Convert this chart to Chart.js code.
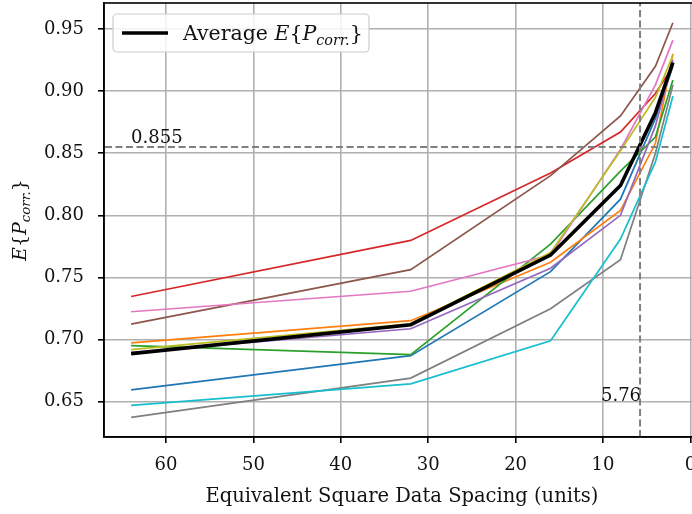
<!DOCTYPE html>
<html>
<head>
<meta charset="utf-8">
<script src="https://cdn.jsdelivr.net/npm/chart.js@4/dist/chart.umd.min.js"></script>
<style>
  html, body { margin: 0; padding: 0; background: #fff; overflow: hidden; }
  #wrap { width: 712px; height: 514px; }
</style>
</head>
<body>
<div id="wrap"><canvas id="spacingChart" width="712" height="514"></canvas></div>
<script>
// data
var spacing = [64, 32, 16, 8, 4, 2];
var xTicks = [0, 10, 20, 30, 40, 50, 60];
var yTicks = [0.65, 0.70, 0.75, 0.80, 0.85, 0.90, 0.95];

var blueRun   = [0.6596, 0.6871, 0.7547, 0.813, 0.878, 0.920];
var orangeRun = [0.6973, 0.7152, 0.7622, 0.804, 0.858, 0.930];
var greenRun  = [0.6951, 0.6879, 0.7768, 0.8356, 0.863, 0.909];
var redRun    = [0.7347, 0.7798, 0.834, 0.867, 0.898, 0.920];
var purpleRun = [0.6895, 0.7087, 0.7574, 0.800, 0.872, 0.925];
var brownRun  = [0.7125, 0.7563, 0.832, 0.880, 0.920, 0.955];
var pinkRun   = [0.7224, 0.7389, 0.768, 0.853, 0.905, 0.941];
var grayRun   = [0.6374, 0.669, 0.7248, 0.7643, 0.850, 0.905];
var oliveRun  = [0.692, 0.7127, 0.770, 0.852, 0.895, 0.929];
var cyanRun   = [0.647, 0.6644, 0.6991, 0.7809, 0.843, 0.896];
var average   = [0.6887, 0.712, 0.768, 0.824, 0.8826, 0.923];

var thresholdP = 0.855;   // horizontal dashed line
var thresholdX = 5.76;    // vertical dashed line
var xRange = [-1.1, 67.1];
var yRange = [0.6216, 0.9709];

var serif = '"DejaVu Serif", "Liberation Serif", serif';
var FS = 18;
var ink = '#111';

function pts(ys) {
  return spacing.map(function (x, i) { return { x: x, y: ys[i] }; });
}

var runs = [
  [blueRun, '#1f77b4'], [orangeRun, '#ff7f0e'], [greenRun, '#2ca02c'],
  [redRun, '#d62728'], [purpleRun, '#9467bd'], [brownRun, '#8c564b'],
  [pinkRun, '#e377c2'], [grayRun, '#7f7f7f'], [oliveRun, '#bcbd22'],
  [cyanRun, '#17becf']
];

var datasets = runs.map(function (r, i) {
  return {
    label: 'run ' + (i + 1),
    data: pts(r[0]),
    borderColor: r[1],
    borderWidth: 1.7,
    pointRadius: 0,
    fill: false,
    tension: 0,
    order: 20 - i
  };
});

datasets.push({
  label: 'Average',
  data: pts(average),
  borderColor: '#000',
  borderWidth: 3.6,
  pointRadius: 0,
  fill: false,
  tension: 0,
  order: 1
});

// threshold lines
datasets.push({
  label: 'hline',
  data: [{ x: xRange[0], y: thresholdP }, { x: xRange[1], y: thresholdP }],
  borderColor: '#808080', borderWidth: 2, borderDash: [7, 3.5],
  pointRadius: 0, order: 0
});
datasets.push({
  label: 'vline',
  data: [{ x: thresholdX, y: yRange[0] }, { x: thresholdX, y: yRange[1] }],
  borderColor: '#808080', borderWidth: 2, borderDash: [7, 3.5],
  pointRadius: 0, order: 0
});

// draw a little bit of "math" text: pieces of {t, it, sub}
function mathWidth(ctx, parts, size) {
  var w = 0;
  parts.forEach(function (p) {
    var s = p.sub ? size * 0.7 : size;
    ctx.font = (p.it ? 'italic ' : '') + s + 'px ' + serif;
    w += ctx.measureText(p.t).width;
  });
  return w;
}
function drawMath(ctx, parts, x, y, size) {
  parts.forEach(function (p) {
    var s = p.sub ? size * 0.7 : size;
    ctx.font = (p.it ? 'italic ' : '') + s + 'px ' + serif;
    ctx.fillText(p.t, x, p.sub ? y + size * 0.22 : y);
    x += ctx.measureText(p.t).width;
  });
}
var eP = [
  { t: 'E', it: true }, { t: '{' }, { t: 'P', it: true },
  { t: 'corr.', it: true, sub: true }, { t: '}' }
];

var extras = {
  id: 'extras',
  afterDraw: function (chart) {
    var ctx = chart.ctx, a = chart.chartArea;
    var xs = chart.scales.x, ys = chart.scales.y;
    ctx.save();
    // frame
    ctx.strokeStyle = '#000';
    ctx.lineWidth = 1.6;
    ctx.strokeRect(a.left, a.top, a.right - a.left, a.bottom - a.top);

    ctx.fillStyle = ink;
    ctx.textBaseline = 'alphabetic';
    ctx.font = FS + 'px ' + serif;
    ctx.textAlign = 'left';
    ctx.fillText(String(thresholdP), xs.getPixelForValue(64), ys.getPixelForValue(thresholdP) - 4);
    ctx.textAlign = 'right';
    ctx.fillText(String(thresholdX), xs.getPixelForValue(thresholdX) + 1, ys.getPixelForValue(0.65) - 1);

    // legend box
    var lx = 113, ly = 14, lw = 256, lh = 38;
    ctx.fillStyle = 'rgba(255,255,255,0.85)';
    ctx.strokeStyle = '#cccccc';
    ctx.lineWidth = 1.2;
    ctx.beginPath();
    ctx.roundRect(lx, ly, lw, lh, 4);
    ctx.fill();
    ctx.stroke();
    ctx.strokeStyle = '#000';
    ctx.lineWidth = 3.6;
    ctx.beginPath();
    ctx.moveTo(122, 33);
    ctx.lineTo(168, 33);
    ctx.stroke();
    ctx.fillStyle = ink;
    ctx.textAlign = 'left';
    drawMath(ctx, [{ t: 'Average ' }].concat(eP), 183, 40, 20.5);

    // y axis title
    ctx.translate(26, (a.top + a.bottom) / 2);
    ctx.rotate(-Math.PI / 2);
    var w = mathWidth(ctx, eP, 19);
    drawMath(ctx, eP, -w / 2, 0, 19);
    ctx.restore();
  }
};

var ctx = document.getElementById('spacingChart').getContext('2d');
var chart = new Chart(ctx, {
  type: 'line',
  data: { datasets: datasets },
  plugins: [extras],
  options: {
    responsive: false,
    animation: false,
    layout: { padding: { top: 3, right: 12, left: 0, bottom: 0 } },
    scales: {
      x: {
        type: 'linear',
        reverse: true,
        min: xRange[0],
        max: xRange[1],
        afterBuildTicks: function (s) { s.ticks = xTicks.map(function (v) { return { value: v }; }); },
        afterFit: function (s) { s.height = 77; s.paddingLeft = 0; s.paddingRight = 0; },
        grid: { color: '#b0b0b0', lineWidth: 1.6, tickColor: '#000', tickLength: 6 },
        border: { color: '#000', width: 1.6 },
        ticks: { color: ink, font: { family: serif, size: FS }, padding: 12, maxRotation: 0 },
        title: {
          display: true,
          text: 'Equivalent Square Data Spacing (units)',
          color: ink,
          font: { family: serif, size: 19.5 },
          padding: { top: 2, bottom: 5 }
        }
      },
      y: {
        type: 'linear',
        min: yRange[0],
        max: yRange[1],
        afterBuildTicks: function (s) { s.ticks = yTicks.map(function (v) { return { value: v }; }); },
        afterFit: function (s) { s.width = 104; s.paddingTop = 0; s.paddingBottom = 0; },
        grid: { color: '#b0b0b0', lineWidth: 1.6, tickColor: '#000', tickLength: 6 },
        border: { color: '#000', width: 1.6 },
        ticks: {
          color: ink,
          font: { family: serif, size: FS },
          padding: 14,
          callback: function (v) { return v.toFixed(2); }
        }
      }
    },
    plugins: {
      legend: { display: false },
      tooltip: { enabled: false }
    }
  }
});
</script>
</body>
</html>
